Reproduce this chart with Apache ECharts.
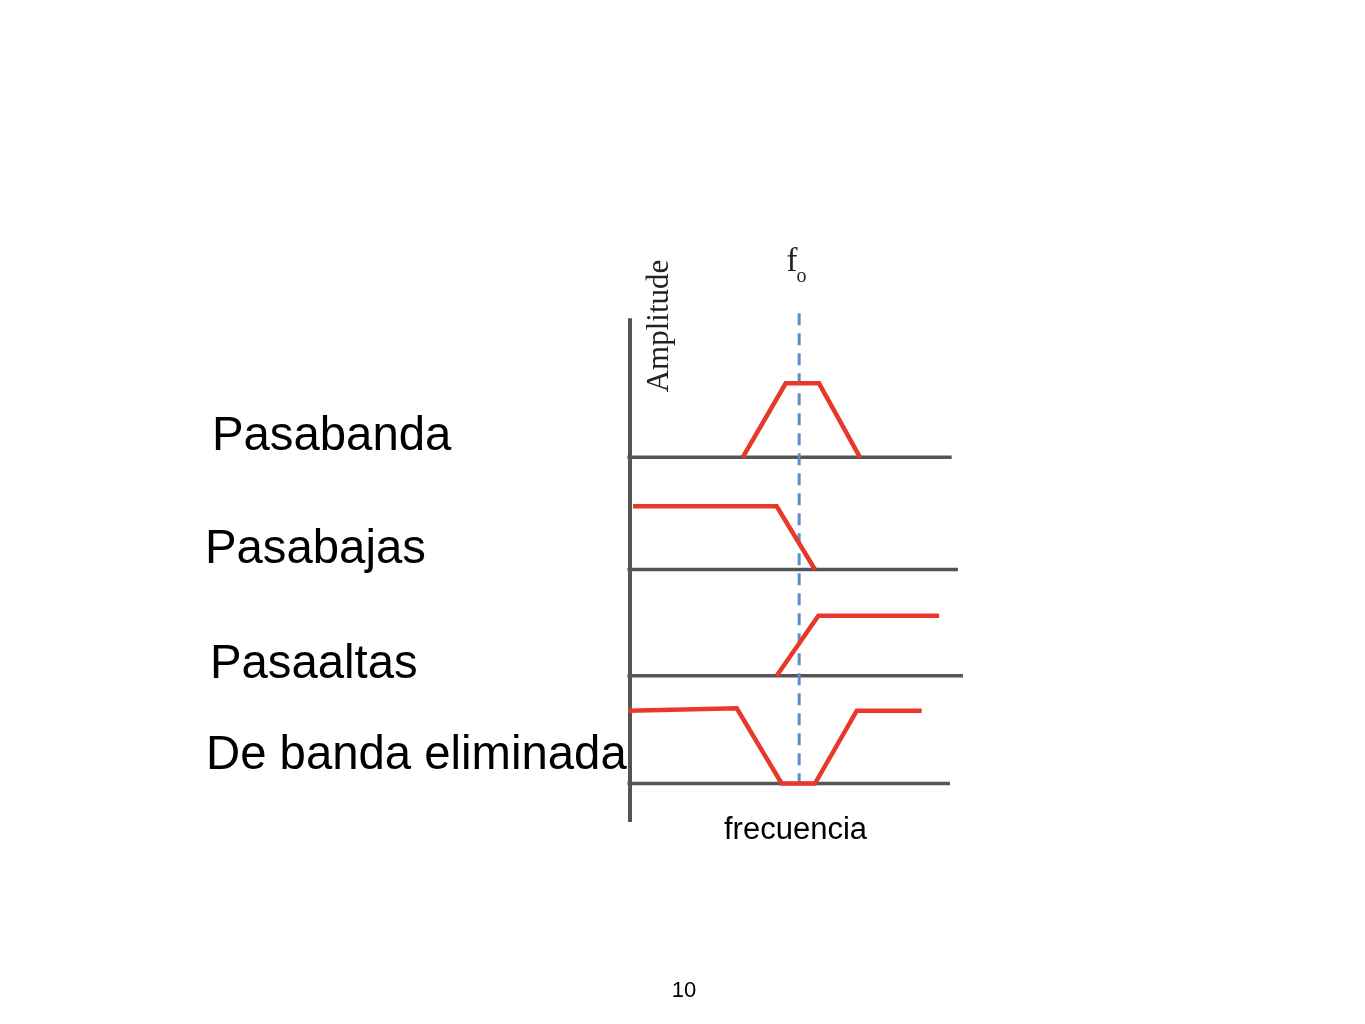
<!DOCTYPE html>
<html>
<head>
<meta charset="utf-8">
<script src="https://cdn.jsdelivr.net/npm/echarts@6/dist/echarts.min.js"></script>
<style>
html,body{margin:0;padding:0;background:#fff;}
#chart{width:1365px;height:1024px;}
</style>
</head>
<body>
<div id="chart"></div>
<script>
// ---- data (frequency units, amplitude 0..1 relative to panel height) ----
const filterNames = ['Pasabanda', 'Pasabajas', 'Pasaaltas', 'De banda eliminada'];
const pasabanda = [[6.63, 0], [9.16, 0.925], [11.12, 0.925], [13.53, 0]];
const pasabajas = [[0.18, 0.79], [8.63, 0.79], [10.88, 0]];
const pasaaltas = [[8.63, 0], [11.08, 0.75], [18.18, 0.75]];
const eliminada = [[-0.12, 0.91], [6.28, 0.94], [8.92, 0], [10.88, 0], [13.34, 0.91], [17.16, 0.91]];
const baselineStart = -0.15;
const baselineEnd = [18.92, 19.29, 19.59, 18.82];
const F0 = 9.95;
const ampAxis = [[0, 0], [0, 0.984]];
const f0Span = [0.072, 0.998];
const xLabel = 'frecuencia';
const yLabel = 'Amplitude';
const pageNumber = '10';

const filters = [pasabanda, pasabajas, pasaaltas, eliminada];

// ---- layout ----
const gridLeft = 613, gridWidth = 357, xMin = -1, xMax = 20;
const panelBase = [457.3, 569.5, 675.7, 783.5];
const panelH = 80;
const RED = '#e8382c', GRAY = '#555555', BLUE = '#5b8ec6';

const grids = [], xAxes = [], yAxes = [], series = [];
panelBase.forEach((b, i) => {
  grids.push({left: gridLeft, width: gridWidth, top: b - panelH, height: panelH});
  xAxes.push({type: 'value', gridIndex: i, min: xMin, max: xMax, show: false});
  yAxes.push({type: 'value', gridIndex: i, min: 0, max: 1, show: false});
});
// overall grid for amplitude axis and f0 line
grids.push({left: gridLeft, width: gridWidth, top: 310, height: 512});
xAxes.push({type: 'value', gridIndex: 4, min: xMin, max: xMax, show: false});
yAxes.push({type: 'value', gridIndex: 4, min: 0, max: 1, show: false});

series.push({
  type: 'line', xAxisIndex: 4, yAxisIndex: 4, data: ampAxis, showSymbol: false, symbol: 'none',
  lineStyle: {color: GRAY, width: 4, cap: 'butt'}, z: 2, silent: true
});
panelBase.forEach((b, i) => {
  series.push({
    type: 'line', xAxisIndex: i, yAxisIndex: i,
    data: [[baselineStart, 0], [baselineEnd[i], 0]],
    symbol: 'none', lineStyle: {color: GRAY, width: 3.5, cap: 'butt'}, z: 2, silent: true, clip: false
  });
});
series.push({
  type: 'line', xAxisIndex: 4, yAxisIndex: 4, data: [[F0, f0Span[0]], [F0, f0Span[1]]],
  symbol: 'none', lineStyle: {color: BLUE, width: 3, type: [12, 8], cap: 'butt'}, z: 3, silent: true
});
filters.forEach((d, i) => {
  series.push({
    name: filterNames[i], type: 'line', xAxisIndex: i, yAxisIndex: i, data: d,
    symbol: 'none', clip: false,
    lineStyle: {color: RED, width: 4.5, cap: 'butt', join: 'miter'}, z: 4, silent: true
  });
});

const labelPos = [[212, 437], [205, 549.5], [210, 664.5], [206, 756]];
const graphic = filterNames.map((n, i) => ({
  type: 'text', x: labelPos[i][0], y: labelPos[i][1],
  style: {text: n, font: '47.3px Arial, "Liberation Sans", sans-serif', fill: '#000',
          textAlign: 'left', textVerticalAlign: 'middle'}
}));
graphic.push({
  type: 'text', x: 795.5, y: 830,
  style: {text: xLabel, font: '31px Arial, "Liberation Sans", sans-serif', fill: '#000',
          textAlign: 'center', textVerticalAlign: 'middle'}
});
graphic.push({
  type: 'text', x: 660, y: 326, rotation: Math.PI / 2,
  style: {text: yLabel, font: '31px "Liberation Serif", "Times New Roman", serif', fill: '#222',
          textAlign: 'center', textVerticalAlign: 'middle'}
});
graphic.push({
  type: 'text', x: 792, y: 262,
  style: {text: 'f', font: '33px "Liberation Serif", "Times New Roman", serif', fill: '#222',
          textAlign: 'center', textVerticalAlign: 'middle'}
});
graphic.push({
  type: 'text', x: 801.5, y: 277,
  style: {text: 'o', font: '20px "Liberation Serif", "Times New Roman", serif', fill: '#222',
          textAlign: 'center', textVerticalAlign: 'middle'}
});
graphic.push({
  type: 'text', x: 684, y: 991,
  style: {text: pageNumber, font: '22px Arial, "Liberation Sans", sans-serif', fill: '#000',
          textAlign: 'center', textVerticalAlign: 'middle'}
});

const chart = echarts.init(document.getElementById('chart'), null, {renderer: 'canvas'});
chart.setOption({
  animation: false,
  backgroundColor: '#ffffff',
  grid: grids, xAxis: xAxes, yAxis: yAxes, series: series, graphic: graphic
});
</script>
</body>
</html>
